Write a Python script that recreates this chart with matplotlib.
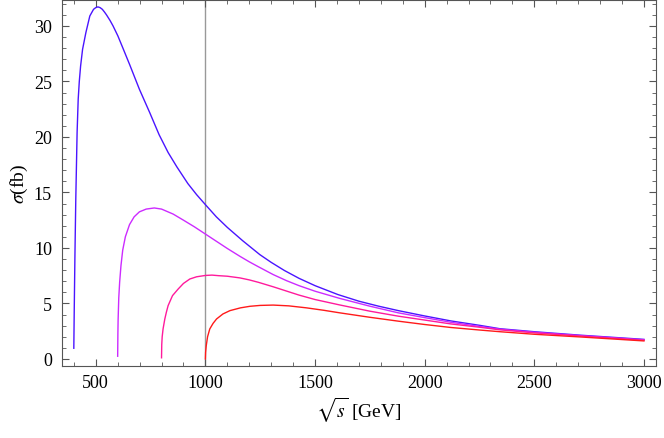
import matplotlib
matplotlib.use('Agg')
import matplotlib.pyplot as plt
from matplotlib.ticker import MultipleLocator

plt.rcParams['font.family'] = ['Liberation Serif', 'DejaVu Serif']
plt.rcParams['mathtext.fontset'] = 'stix'

# 曲线数据
x_blue = [400, 402, 405, 409, 415, 420, 425, 431, 440, 455, 473, 490, 500, 510, 520,
          530, 540, 549, 565, 579, 590, 601, 625, 655, 699, 746, 789, 830, 870, 920,
          960, 1000, 1050, 1100, 1170, 1248, 1300, 1360, 1427, 1500, 1604, 1700, 1790,
          1880, 2000, 2120, 2252, 2343, 2500, 2708, 3000]
y_blue = [0.96, 4.5, 9.2, 14.4, 20.4, 23.4, 25.0, 26.4, 27.9, 29.4, 30.9, 31.5, 31.65,
          31.72, 31.65, 31.5, 31.25, 31.0, 30.5, 30.0, 29.55, 29.1, 27.95, 26.5, 24.3,
          22.2, 20.2, 18.6, 17.3, 15.8, 14.8, 13.9, 12.8, 11.85, 10.65, 9.4, 8.7, 7.97,
          7.26, 6.6, 5.8, 5.2, 4.75, 4.35, 3.87, 3.42, 3.02, 2.72, 2.45, 2.14, 1.76]

x_purple = [600, 601, 602, 605, 609, 615, 623, 635, 654, 675, 699, 730, 767, 800, 853,
            900, 950, 1000, 1050, 1100, 1157, 1200, 1242, 1309, 1370, 1427, 1500, 1613,
            1750, 1880, 2000, 2120, 2252, 2343, 2500, 2708, 3000]
y_purple = [0.24, 2.3, 3.5, 5.5, 6.9, 8.4, 9.8, 11.0, 12.1, 12.8, 13.25, 13.5, 13.6,
            13.5, 13.05, 12.5, 11.9, 11.25, 10.6, 9.95, 9.25, 8.75, 8.3, 7.6, 7.05, 6.6,
            6.1, 5.45, 4.75, 4.15, 3.72, 3.3, 2.92, 2.68, 2.4, 2.1, 1.72]

x_pink = [800, 801, 803, 807, 815, 822, 830, 850, 876, 900, 929, 960, 1000, 1030, 1060,
          1100, 1157, 1200, 1242, 1309, 1427, 1500, 1613, 1750, 1880, 2000, 2120, 2252,
          2343, 2500, 2708, 3000]
y_pink = [0.1, 1.3, 2.0, 2.7, 3.6, 4.2, 4.8, 5.7, 6.3, 6.8, 7.2, 7.4, 7.52, 7.55, 7.5,
          7.45, 7.3, 7.12, 6.9, 6.5, 5.75, 5.35, 4.86, 4.3, 3.85, 3.5, 3.15, 2.85, 2.62,
          2.35, 2.07, 1.68]

x_red = [1000, 1001, 1004, 1010, 1020, 1035, 1051, 1080, 1112, 1160, 1203, 1250, 1309,
         1380, 1461, 1540, 1613, 1750, 1880, 2000, 2120, 2252, 2343, 2500, 2708, 3000]
y_red = [0.0, 0.6, 1.2, 2.0, 2.7, 3.2, 3.6, 4.05, 4.35, 4.6, 4.74, 4.82, 4.85, 4.78,
         4.6, 4.38, 4.15, 3.75, 3.4, 3.1, 2.83, 2.6, 2.45, 2.22, 1.98, 1.62]

x_vline = 1000

fig = plt.figure(figsize=(6.64, 4.39), dpi=100)
ax = fig.add_axes([0.093, 0.165, 0.895, 0.833])

ax.axvline(x_vline, color='#999999', linewidth=1.0, zorder=1)
ax.plot(x_blue, y_blue, color='#4a14ff', linewidth=1.0)
ax.plot(x_purple, y_purple, color='#cc2bff', linewidth=1.0)
ax.plot(x_pink, y_pink, color='#ff1a9c', linewidth=1.0)
ax.plot(x_red, y_red, color='#ff1a1a', linewidth=1.0)

ax.set_xlim(345, 3055)
ax.set_ylim(-0.6, 32.35)

ax.xaxis.set_major_locator(MultipleLocator(500))
ax.xaxis.set_minor_locator(MultipleLocator(100))
ax.yaxis.set_major_locator(MultipleLocator(5))
ax.yaxis.set_minor_locator(MultipleLocator(1))

ax.tick_params(which='both', direction='in', top=True, right=True, colors='#555555',
               labelcolor='black', labelsize=13)
ax.tick_params(which='major', length=5, width=0.8)
ax.tick_params(which='minor', length=3, width=0.6)
ax.tick_params(axis='y', which='major', pad=7)
ax.tick_params(axis='x', which='major', pad=6)
for sp in ax.spines.values():
    sp.set_color('#555555')
    sp.set_linewidth(0.8)

ax.set_xlabel(r'$\sqrt{s}$ [GeV]', fontsize=14, labelpad=3)
ax.set_ylabel(r'$\sigma$(fb)', fontsize=14, labelpad=3)

plt.savefig('out.png', dpi=100)
plt.close()
